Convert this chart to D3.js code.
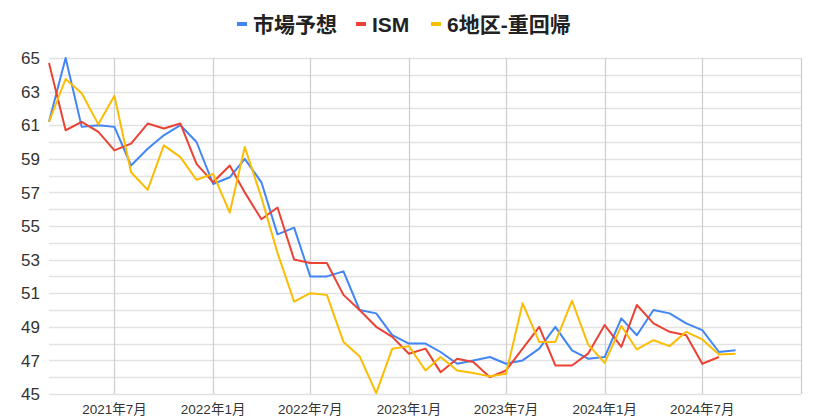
<!DOCTYPE html>
<html>
<head>
<meta charset="utf-8">
<script src="https://cdn.jsdelivr.net/npm/d3@7"></script>
<style>
  body { margin: 0; background: #fff; }
  text { font-family: Arial, "Liberation Sans", "Noto Sans CJK JP", sans-serif; }
</style>
</head>
<body>
<div id="chart"></div>
<script>
var months = [
  "2021-03", "2021-04", "2021-05", "2021-06", "2021-07", "2021-08", "2021-09", "2021-10", "2021-11", "2021-12",
  "2022-01", "2022-02", "2022-03", "2022-04", "2022-05", "2022-06", "2022-07", "2022-08", "2022-09", "2022-10", "2022-11", "2022-12",
  "2023-01", "2023-02", "2023-03", "2023-04", "2023-05", "2023-06", "2023-07", "2023-08", "2023-09", "2023-10", "2023-11", "2023-12",
  "2024-01", "2024-02", "2024-03", "2024-04", "2024-05", "2024-06", "2024-07", "2024-08", "2024-09"
]

// 市場予想
var forecast = [61.2, 65.0, 60.9, 61.0, 60.9, 58.6, 59.6, 60.4, 61.0, 60.0,
  57.5, 57.9, 59.0, 57.6, 54.5, 54.9, 52.0, 52.0, 52.3, 50.0, 49.8, 48.5,
  48.0, 48.0, 47.5, 46.8, 47.0, 47.2, 46.8, 47.0, 47.7, 49.0, 47.6, 47.1,
  47.2, 49.5, 48.5, 50.0, 49.8, 49.2, 48.8, 47.5, 47.6]

// ISM
var ism = [64.7, 60.7, 61.2, 60.6, 59.5, 59.9, 61.1, 60.8, 61.1, 58.7,
  57.6, 58.6, 57.0, 55.4, 56.1, 53.0, 52.8, 52.8, 50.9, 50.0, 49.0, 48.4,
  47.4, 47.7, 46.3, 47.1, 46.9, 46.0, 46.4, 47.7, 49.0, 46.7, 46.7, 47.4,
  49.1, 47.8, 50.3, 49.2, 48.7, 48.5, 46.8, 47.2]

// 6地区-重回帰
var regional = [61.2, 63.75, 62.9, 61.05, 62.75, 58.2, 57.15, 59.8, 59.1, 57.75,
  58.1, 55.8, 59.7, 56.7, 53.4, 50.5, 51.0, 50.9, 48.1, 47.25, 45.05, 47.7,
  47.85, 46.4, 47.2, 46.4, 46.25, 46.05, 46.2, 50.4, 48.1, 48.1, 50.55, 47.95,
  46.85, 49.05, 47.65, 48.2, 47.85, 48.7, 48.25, 47.35, 47.4]

var seriesNames = ["市場予想", "ISM", "6地区-重回帰"]
var seriesColors = ["#4285f4", "#ea4335", "#fbbc04"]
var xTickLabels = ["2021-07", "2022-01", "2022-07", "2023-01", "2023-07", "2024-01", "2024-07"]
var yTicks = [45, 47, 49, 51, 53, 55, 57, 59, 61, 63, 65]

var width = 814,
    height = 420,
    margin = { top: 58, right: 13, bottom: 26, left: 49 }

var parseMonth = d3.timeParse("%Y-%m")

var svg = d3.select("#chart")
  .append("svg")
  .attr("width", width)
  .attr("height", height)

var x = d3.scaleTime()
  .domain([parseMonth("2021-03"), parseMonth("2025-01")])
  .range([margin.left, width - margin.right])

var y = d3.scaleLinear()
  .domain([45, 65])
  .range([height - margin.bottom, margin.top])

// horizontal gridlines, one per unit
svg.append("g")
  .selectAll("line")
  .data(d3.range(45, 66))
  .enter().append("line")
  .attr("x1", margin.left)
  .attr("x2", width - margin.right)
  .attr("y1", function(d) { return Math.round(y(d)) + 0.5 })
  .attr("y2", function(d) { return Math.round(y(d)) + 0.5 })
  .attr("stroke", "#e2e2e2")
  .attr("stroke-width", 1.3)

// vertical gridlines at labelled months + right edge
var vLines = xTickLabels.map(parseMonth).concat([parseMonth("2025-01")])
svg.append("g")
  .selectAll("line")
  .data(vLines)
  .enter().append("line")
  .attr("x1", function(d) { return Math.round(x(d)) + 0.5 })
  .attr("x2", function(d) { return Math.round(x(d)) + 0.5 })
  .attr("y1", margin.top)
  .attr("y2", height - margin.bottom)
  .attr("stroke", "#d0d0d0")
  .attr("stroke-width", 1.3)

// y axis labels
svg.append("g")
  .selectAll("text")
  .data(yTicks)
  .enter().append("text")
  .attr("x", 40)
  .attr("y", function(d) { return y(d) })
  .attr("dy", "0.36em")
  .attr("text-anchor", "end")
  .attr("font-size", 17)
  .attr("fill", "#333")
  .text(function(d) { return d })

// x axis labels
var fmt = d3.timeFormat("%Y年%-m月")
svg.append("g")
  .selectAll("text")
  .data(xTickLabels.map(parseMonth))
  .enter().append("text")
  .attr("x", function(d) { return x(d) })
  .attr("y", 414)
  .attr("text-anchor", "middle")
  .attr("font-size", 13.5)
  .attr("fill", "#333")
  .text(function(d) { return fmt(d) })

// lines
var allSeries = [forecast, ism, regional]
var line = d3.line()
  .x(function(d, i) { return x(parseMonth(months[i])) })
  .y(function(d) { return y(d) })

svg.append("g")
  .selectAll("path")
  .data(allSeries)
  .enter().append("path")
  .attr("d", function(d) { return line(d) })
  .attr("fill", "none")
  .attr("stroke", function(d, i) { return seriesColors[i] })
  .attr("stroke-width", 2)
  .attr("stroke-linejoin", "round")

// legend
var legendX = [237, 356, 431]
var legend = svg.append("g")
  .selectAll("g")
  .data(seriesNames)
  .enter().append("g")
  .attr("transform", function(d, i) { return "translate(" + legendX[i] + ",24)" })

legend.append("rect")
  .attr("x", 0)
  .attr("y", -2)
  .attr("width", 10)
  .attr("height", 4)
  .attr("fill", function(d, i) { return seriesColors[i] })

legend.append("text")
  .attr("x", 16)
  .attr("dy", "0.36em")
  .attr("font-size", 21)
  .attr("font-weight", "bold")
  .attr("fill", "#222")
  .text(function(d) { return d })
</script>
</body>
</html>
